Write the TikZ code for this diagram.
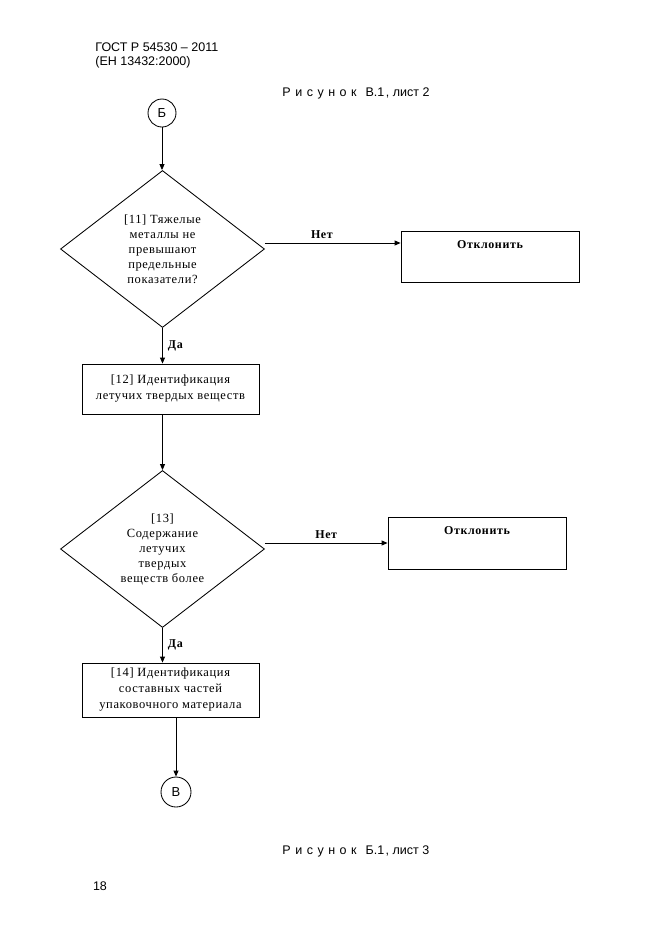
\documentclass[tikz,border=0pt]{standalone}
\usepackage{fontspec}
\setmainfont{Liberation Serif}
\newfontfamily\arialf{Liberation Sans}
\newfontfamily\serifsp[LetterSpace=5]{Liberation Serif}
\usetikzlibrary{shapes.geometric,arrows.meta}
\begin{document}
\begin{tikzpicture}[x=1pt,y=-1pt,
  line width=0.85pt,
  arr/.style={-{Triangle[length=6pt,width=5pt]}},
  dec/.style={draw,diamond,minimum width=204pt,minimum height=157pt,inner sep=0pt,align=center,font=\serifsp\fontsize{12.5}{15}\selectfont},
  proc/.style={draw,rectangle,minimum width=177pt,inner sep=0pt,align=center,font=\serifsp\fontsize{12.5}{16}\selectfont},
  rej/.style={draw,rectangle,minimum width=178pt,inner sep=0pt},
  conn/.style={draw,circle,inner sep=0pt,font=\arialf\fontsize{13}{14}\selectfont},
  lbl/.style={font=\serifsp\bfseries\fontsize{12}{14}\selectfont,inner sep=1pt},
  sanslbl/.style={font=\arialf\fontsize{12.5}{15}\selectfont,inner sep=0pt}
]
\useasboundingbox (0,0) rectangle (661,935);
\node[sanslbl,anchor=west] (h1) at (95,47) {ГОСТ Р 54530 – 2011};
\node[sanslbl,anchor=west] (h2) at (95,62) {(ЕН 13432:2000)};
\node[sanslbl,anchor=west] (cap1) at (282,93) {Р\hspace{4.5pt}и\hspace{4.5pt}с\hspace{4.5pt}у\hspace{4.5pt}н\hspace{4.5pt}о\hspace{4.5pt}к\hspace{9pt}В.1\hspace{1.5pt}, лист 2};
\node[conn,minimum size=28pt] (cB) at (162,113) {Б};
\node[dec] (d1) at (162.5,249) {[11] Тяжелые\\металлы не\\превышают\\предельные\\показатели?};
\node[rej,minimum height=51pt,label={[lbl,anchor=north,yshift=-9pt]north:Отклонить}] (r1) at (490,256.5) {};
\node[proc,minimum height=50pt] (b12) at (170.5,389) {[12] Идентификация\\летучих твердых веществ};
\node[dec] (d2) at (162.5,549) {[13]\\Содержание\\летучих\\твердых\\веществ более};
\node[rej,minimum height=52pt,label={[lbl,anchor=north,yshift=-9pt]north:Отклонить}] (r2) at (477,543) {};
\node[proc,minimum height=54pt] (b14) at (170.5,690) {[14] Идентификация\\составных частей\\упаковочного материала};
\node[conn,minimum size=30pt] (cV) at (176,792) {В};
\node[sanslbl,anchor=west] (cap2) at (282,851) {Р\hspace{4.5pt}и\hspace{4.5pt}с\hspace{4.5pt}у\hspace{4.5pt}н\hspace{4.5pt}о\hspace{4.5pt}к\hspace{9pt}Б.1\hspace{1.5pt}, лист 3};
\node[sanslbl] (pg) at (100,886) {18};
\draw[arr] (cB.south) -- (cB.south |- d1.north);
\draw[arr] ([yshift=6pt]d1.east) coordinate (n1) -- (n1 -| r1.west) node[lbl,pos=0.42,above=3pt]{Нет};
\draw[arr] (d1.south) -- (d1.south |- b12.north) node[lbl,midway,right=4pt]{Да};
\draw[arr] (d2.north |- b12.south) -- (d2.north);
\draw[arr] ([yshift=6pt]d2.east) coordinate (n2) -- (n2 -| r2.west) node[lbl,midway,above=3pt]{Нет};
\draw[arr] (d2.south) -- (d2.south |- b14.north) node[lbl,midway,right=4pt]{Да};
\draw[arr] (cV.north |- b14.south) -- (cV.north);
\end{tikzpicture}
\end{document}
